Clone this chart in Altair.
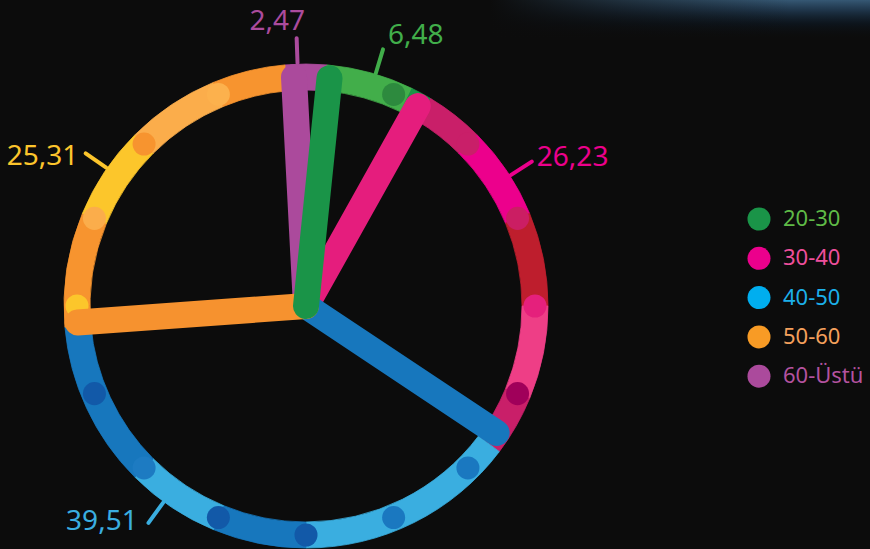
import math
import altair as alt
import pandas as pd

# ---------------- data ----------------
CATEGORIES = ["60-Üstü", "20-30", "30-40", "40-50", "50-60"]   # clockwise, from the top
VALUES = [2.47, 6.48, 26.23, 39.51, 25.31]
VALUE_LABELS = ["2,47", "6,48", "26,23", "39,51", "25,31"]
LEGEND_ITEMS = ["20-30", "30-40", "40-50", "50-60", "60-Üstü"]

# ---------------- layout ----------------
W, H = 870, 549
CX, CY = 306, 306
R_OUT, R_IN = 242, 216
R_MID = (R_OUT + R_IN) / 2
START_DEG = -3
SPOKE_W = 26
DOT_SIZE = 530

# decorative ring (angles in degrees, clockwise from 12 o'clock)
RING_BREAKS = [-5, 5, 26, 31, 45, 67.5, 90, 112.5, 127, 180, 202.5, 225, 265, 292.5, 315, 337.5, 355]
RING_SHADES = ["purple", "lgreen", "dgreen", "dpink", "magenta", "crimson", "pink", "dpink",
               "lblue", "mblue", "lblue", "mblue", "orange", "yellow", "lorange", "orange"]
DOT_ANGLES = [22.5, 45, 67.5, 90, 112.5, 135, 157.5, 180, 202.5, 225, 247.5, 270, 292.5, 315, 337.5]
DOT_SHADES = ["ddgreen", "dpink", "dpink2", "hotpink", "plum", "mblue2", "mblue2", "dblue", "dblue",
              "mblue3", "dblue", "yellow", "lorange", "orange", "lorange2"]

LABEL_LEADER_DEG = [-2, 16.7, 57.4, 216, 304.7]
LABEL_TEXT_DEG = [-5.8, 16.9, 57.4, 217.9, 303.2]
LABEL_TEXT_R = [285, 282, 274, 274, 272]
LABEL_ALIGN = ["center", "left", "left", "right", "right"]
LEADER_R0, LEADER_R1 = 243, 268

LEGEND_X, LEGEND_TX, LEGEND_Y0, LEGEND_DY = 759, 783, 219, 39.3

GLOW_X0, GLOW_FADE_X1, GLOW_Y1 = 490, 790, 40

# ---------------- styles ----------------
SHADE = {
    "purple": "#ab4a9c", "lgreen": "#42ae4a", "dgreen": "#1b9447", "ddgreen": "#2d8a3e",
    "dpink": "#c91f69", "dpink2": "#cb1e63", "magenta": "#ec008c", "crimson": "#be1e2d",
    "pink": "#ee3e86", "hotpink": "#e5207c", "plum": "#a0005a",
    "lblue": "#3aaee0", "mblue": "#1777bd", "mblue2": "#1a78c0", "mblue3": "#1d7bc2",
    "dblue": "#1259a8", "orange": "#f7942f", "yellow": "#fcc62b", "lorange": "#fbad4b",
    "lorange2": "#fcb14d",
}
SPOKE_COLOR = {"60-Üstü": "#ab4a9c", "20-30": "#1a9448", "30-40": "#e51d7d",
               "40-50": "#1777bd", "50-60": "#f6922f"}
LABEL_COLOR = {"60-Üstü": "#ab4b9d", "20-30": "#41ae4a", "30-40": "#ec008c",
               "40-50": "#3aaee0", "50-60": "#fcc52c"}
LEGEND_DOT = {"20-30": "#1a9448", "30-40": "#ec008c", "40-50": "#00aeef",
              "50-60": "#f89b25", "60-Üstü": "#ab4a9c"}
LEGEND_TEXT = {"20-30": "#5fba47", "30-40": "#ef4f9c", "40-50": "#1cb0ea",
               "50-60": "#f5a05c", "60-Üstü": "#b3529f"}
FONT = "Noto Sans"
BG = "#0c0c0c"

XS = alt.Scale(domain=[0, W], nice=False, zero=False)
YS = alt.Scale(domain=[0, H], nice=False, zero=False, reverse=True)
D2R = math.pi / 180


def X(f):
    return alt.X(f, type="quantitative", scale=XS, axis=None)


def Y(f):
    return alt.Y(f, type="quantitative", scale=YS, axis=None)


# ---------------- glow (top right) ----------------
glow = alt.Chart(pd.DataFrame({"x0": [GLOW_X0], "x1": [W], "y0": [0], "y1": [GLOW_Y1]})).mark_rect(
    fill=alt.LinearGradient(
        gradient="linear", x1=0, y1=0, x2=0, y2=1,
        stops=[alt.GradientStop(color="rgba(54,88,116,1)", offset=0),
               alt.GradientStop(color="rgba(36,64,90,0.8)", offset=0.25),
               alt.GradientStop(color="rgba(14,30,46,0.45)", offset=0.6),
               alt.GradientStop(color="rgba(12,12,12,0)", offset=1)])
).encode(x=X("x0"), x2="x1", y=Y("y0"), y2="y1")
glow_fade = alt.Chart(pd.DataFrame({"x0": [GLOW_X0], "x1": [GLOW_FADE_X1], "y0": [0], "y1": [GLOW_Y1]})).mark_rect(
    fill=alt.LinearGradient(
        gradient="linear", x1=0, y1=0, x2=1, y2=0,
        stops=[alt.GradientStop(color="rgba(12,12,12,1)", offset=0),
               alt.GradientStop(color="rgba(12,12,12,0.5)", offset=0.45),
               alt.GradientStop(color="rgba(12,12,12,0)", offset=1)])
).encode(x=X("x0"), x2="x1", y=Y("y0"), y2="y1")

# ---------------- ring ----------------
ring_df = pd.DataFrame({
    "a0": RING_BREAKS[:-1],
    "a1": RING_BREAKS[1:],
    "col": [SHADE[s] for s in RING_SHADES],
})
ring = alt.Chart(ring_df).transform_calculate(
    t0=f"datum.a0 * {D2R}", t1=f"datum.a1 * {D2R}", cx=f"{CX}", cy=f"{CY}"
).mark_arc(outerRadius=R_OUT, innerRadius=R_IN, strokeWidth=0.8).encode(
    x=X("cx"), y=Y("cy"),
    theta=alt.Theta("t0:Q", scale=None), theta2="t1:Q",
    color=alt.Color("col:N", scale=None), stroke=alt.Stroke("col:N", scale=None),
)

dot_df = pd.DataFrame({"a": DOT_ANGLES, "col": [SHADE[s] for s in DOT_SHADES]})
dots = alt.Chart(dot_df).transform_calculate(
    px=f"{CX} + {R_MID} * sin(datum.a * {D2R})",
    py=f"{CY} - {R_MID} * cos(datum.a * {D2R})",
).mark_circle(size=DOT_SIZE, opacity=1).encode(
    x=X("px"), y=Y("py"), color=alt.Color("col:N", scale=None)
)

# ---------------- spokes (from the data) ----------------
pie_df = pd.DataFrame({
    "cat": CATEGORIES, "value": VALUES, "label": VALUE_LABELS, "pos": list(range(len(VALUES))),
    "spoke": [SPOKE_COLOR[c] for c in CATEGORIES],
    "lcol": [LABEL_COLOR[c] for c in CATEGORIES],
    "lead": LABEL_LEADER_DEG, "tdeg": LABEL_TEXT_DEG, "tr": LABEL_TEXT_R, "align": LABEL_ALIGN,
})
spoke_base = alt.Chart(pie_df).transform_window(
    cum="sum(value)", sort=[alt.SortField("pos")], frame=[None, 0]
).transform_calculate(
    ang=f"({START_DEG} + 3.6 * (datum.cum - datum.value)) * {D2R}",
    cx=f"{CX}", cy=f"{CY}",
).transform_calculate(
    ex=f"{CX} + {R_MID} * sin(datum.ang)",
    ey=f"{CY} - {R_MID} * cos(datum.ang)",
)
spoke_enc = dict(x=X("cx"), y=Y("cy"), x2="ex", y2="ey", color=alt.Color("spoke:N", scale=None))
spokes_back = spoke_base.transform_filter("datum.cat != '20-30'").mark_rule(
    strokeWidth=SPOKE_W, strokeCap="round").encode(**spoke_enc)
spokes_front = spoke_base.transform_filter("datum.cat == '20-30'").mark_rule(
    strokeWidth=SPOKE_W, strokeCap="round").encode(**spoke_enc)

# ---------------- value labels ----------------
leaders = alt.Chart(pie_df).transform_calculate(
    lx0=f"{CX} + {LEADER_R0} * sin(datum.lead * {D2R})",
    ly0=f"{CY} - {LEADER_R0} * cos(datum.lead * {D2R})",
    lx1=f"{CX} + {LEADER_R1} * sin(datum.lead * {D2R})",
    ly1=f"{CY} - {LEADER_R1} * cos(datum.lead * {D2R})",
).mark_rule(strokeWidth=4, strokeCap="round").encode(
    x=X("lx0"), y=Y("ly0"), x2="lx1", y2="ly1", color=alt.Color("lcol:N", scale=None)
)

label_layers = []
for al in ["center", "left", "right"]:
    label_layers.append(
        alt.Chart(pie_df).transform_filter(f"datum.align == '{al}'").transform_calculate(
            tx=f"{CX} + datum.tr * sin(datum.tdeg * {D2R})",
            ty=f"{CY} - datum.tr * cos(datum.tdeg * {D2R})",
        ).mark_text(font=FONT, fontSize=28, align=al, baseline="middle").encode(
            x=X("tx"), y=Y("ty"), text="label:N", color=alt.Color("lcol:N", scale=None)
        )
    )

# ---------------- legend ----------------
leg_df = pd.DataFrame({
    "item": LEGEND_ITEMS, "i": list(range(len(LEGEND_ITEMS))),
    "dot": [LEGEND_DOT[c] for c in LEGEND_ITEMS],
    "tcol": [LEGEND_TEXT[c] for c in LEGEND_ITEMS],
})
leg_base = alt.Chart(leg_df).transform_calculate(
    lx=f"{LEGEND_X}", tx=f"{LEGEND_TX}", ly=f"{LEGEND_Y0} + datum.i * {LEGEND_DY}"
)
leg_dots = leg_base.mark_circle(size=DOT_SIZE, opacity=1).encode(
    x=X("lx"), y=Y("ly"), color=alt.Color("dot:N", scale=None))
leg_text = leg_base.mark_text(font=FONT, fontSize=22, align="left", baseline="middle").encode(
    x=X("tx"), y=Y("ly"), text="item:N", color=alt.Color("tcol:N", scale=None))

chart = alt.layer(
    glow, glow_fade, ring, dots, spokes_back, spokes_front, leaders, *label_layers, leg_dots, leg_text
).properties(
    width=W, height=H, padding=0, background=BG,
    autosize=alt.AutoSizeParams(type="none"),
).configure_view(strokeWidth=0)

chart.save("out.html", embed_options={"renderer": "svg", "actions": False})
